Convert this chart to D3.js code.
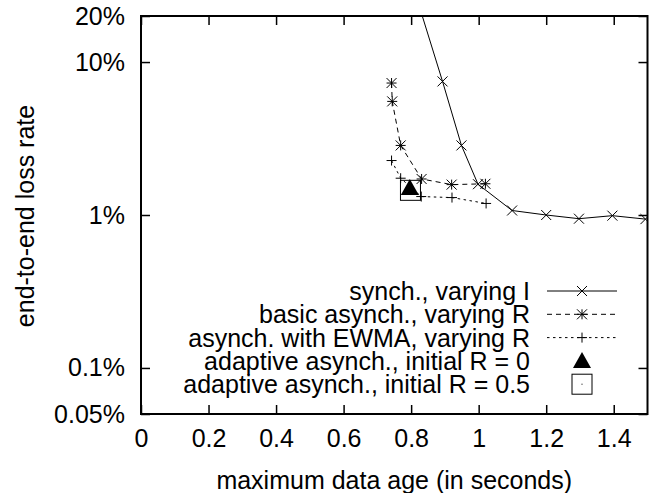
<!DOCTYPE html>
<html><head><meta charset="utf-8">
<script src="https://cdn.jsdelivr.net/npm/d3@7"></script>
<style>
body{margin:0;background:#fff}
text{font-family:"Liberation Sans",Arial,Helvetica,sans-serif;font-size:25px;fill:#000}
</style>
</head><body><svg id="c" width="649" height="493"></svg>
<script>
// ---- data ----
const xTicks = [0, 0.2, 0.4, 0.6, 0.8, 1, 1.2, 1.4];
const xTickLabels = ["0", "0.2", "0.4", "0.6", "0.8", "1", "1.2", "1.4"];
const yTicks = [20, 10, 1, 0.1, 0.05];
const yTickLabels = ["20%", "10%", "1%", "0.1%", "0.05%"];
const seriesNames = ["synch., varying I", "basic asynch., varying R", "asynch. with EWMA, varying R",
                     "adaptive asynch., initial R = 0", "adaptive asynch., initial R = 0.5"];
const synchX = [0.80, 0.893, 0.949, 0.998, 1.099, 1.200, 1.297, 1.396, 1.494];
const synchY = [34.4, 7.47, 2.85, 1.59, 1.07, 1.00, 0.946, 0.99, 0.94];
const basicX = [0.742, 0.744, 0.769, 0.831, 0.920, 1.020];
const basicY = [7.29, 5.53, 2.85, 1.72, 1.58, 1.60];
const ewmaX = [0.742, 0.769, 0.830, 0.921, 1.022];
const ewmaY = [2.27, 1.74, 1.32, 1.30, 1.19];
const adapt0X = [0.796], adapt0Y = [1.50];
const adapt5X = [0.798], adapt5Y = [1.45];

// ---- layout ----
const L = 141, R = 647.5, T = 16, B = 414;
const svg = d3.select("#c");
const x = d3.scaleLinear().domain([0, 1.5]).range([L, R]);
const y = d3.scaleLog().domain([0.05, 20]).range([B, T]);

svg.append("defs").append("clipPath").attr("id", "clip")
  .append("rect").attr("x", L).attr("y", T).attr("width", R - L).attr("height", B - T);

// axes (ticks inward, mirrored)
const tickLen = 9;
const xAxisB = d3.axisBottom(x).tickValues(xTicks).tickSize(-tickLen).tickPadding(15)
  .tickFormat((d, i) => xTickLabels[i]);
const xAxisT = d3.axisTop(x).tickValues(xTicks).tickSize(-tickLen).tickFormat("");
const yAxisL = d3.axisLeft(y).tickValues(yTicks).tickSize(-tickLen).tickPadding(16)
  .tickFormat((d, i) => yTickLabels[i]);
const yAxisR = d3.axisRight(y).tickValues(yTicks).tickSize(-tickLen).tickFormat("");

function styleAxis(g) {
  g.select(".domain").remove();
  g.selectAll(".tick line").attr("stroke", "#000").attr("stroke-width", 1.5);
  g.selectAll(".tick text").attr("fill", "#000");
}
svg.append("g").attr("transform", `translate(0,${B})`).call(xAxisB).call(styleAxis);
svg.append("g").attr("transform", `translate(0,${T})`).call(xAxisT).call(styleAxis);
svg.append("g").attr("transform", `translate(${L},0)`).call(yAxisL).call(styleAxis);
svg.append("g").attr("transform", `translate(${R},0)`).call(yAxisR).call(styleAxis);
svg.selectAll("g").attr("font-size", null).attr("font-family", null);

// border
svg.append("rect").attr("x", L).attr("y", T).attr("width", R - L).attr("height", B - T)
  .attr("fill", "none").attr("stroke", "#000").attr("stroke-width", 2);

// axis titles
svg.append("text").attr("x", (L + R) / 2).attr("y", 489).attr("text-anchor", "middle")
  .text("maximum data age (in seconds)");
svg.append("text").attr("transform", "translate(34,216) rotate(-90)").attr("text-anchor", "middle")
  .text("end-to-end loss rate");

// markers
const S = 5;
function markCross(g, cx, cy) {
  g.append("path").attr("d", `M${cx - S},${cy - S}L${cx + S},${cy + S}M${cx - S},${cy + S}L${cx + S},${cy - S}`)
    .attr("stroke", "#000").attr("stroke-width", 1).attr("fill", "none");
}
function markPlus(g, cx, cy) {
  g.append("path").attr("d", `M${cx - S},${cy}L${cx + S},${cy}M${cx},${cy - S}L${cx},${cy + S}`)
    .attr("stroke", "#000").attr("stroke-width", 1).attr("fill", "none");
}
function markStar(g, cx, cy) { markCross(g, cx, cy); markPlus(g, cx, cy); }
function markTri(g, cx, cy) {
  g.append("path").attr("d", `M${cx},${cy - 9}L${cx + 9},${cy + 7}L${cx - 9},${cy + 7}Z`).attr("fill", "#000");
}
function markBox(g, cx, cy) {
  g.append("rect").attr("x", cx - 10).attr("y", cy - 10).attr("width", 20).attr("height", 20)
    .attr("fill", "none").attr("stroke", "#000").attr("stroke-width", 1);
  g.append("rect").attr("x", cx - 0.5).attr("y", cy - 0.5).attr("width", 1).attr("height", 1).attr("fill", "#000");
}

const plot = svg.append("g").attr("clip-path", "url(#clip)");
const line = d3.line().x(d => x(d[0])).y(d => y(d[1]));
const series = [
  {xs: synchX, ys: synchY, dash: null, mark: markCross},
  {xs: basicX, ys: basicY, dash: "5,4", mark: markStar},
  {xs: ewmaX, ys: ewmaY, dash: "2.5,3.5", mark: markPlus},
  {xs: adapt0X, ys: adapt0Y, dash: null, mark: markTri, noLine: true},
  {xs: adapt5X, ys: adapt5Y, dash: null, mark: markBox, noLine: true}
];
series.forEach(s => {
  const pts = s.xs.map((v, i) => [v, s.ys[i]]);
  if (!s.noLine) {
    plot.append("path").datum(pts).attr("d", line).attr("fill", "none").attr("stroke", "#000")
      .attr("stroke-width", 1).attr("stroke-dasharray", s.dash);
  }
  pts.forEach(p => s.mark(plot, x(p[0]), y(p[1])));
});

// legend
const legY0 = 291, legDy = 23.3;
series.forEach((s, i) => {
  const yy = legY0 + i * legDy;
  svg.append("text").attr("x", 530).attr("y", yy).attr("dy", "0.36em").attr("text-anchor", "end").text(seriesNames[i]);
  if (!s.noLine) {
    svg.append("line").attr("x1", 547).attr("x2", 617).attr("y1", yy).attr("y2", yy)
      .attr("stroke", "#000").attr("stroke-width", 1).attr("stroke-dasharray", s.dash);
  }
  s.mark(svg, 582, yy);
});
</script>
</body></html>
